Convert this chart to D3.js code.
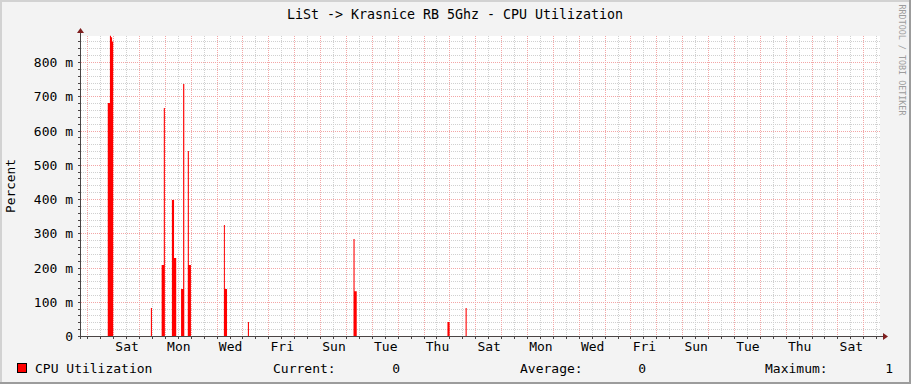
<!DOCTYPE html>
<html>
<head>
<meta charset="utf-8">
<script src="https://cdn.jsdelivr.net/npm/d3@7"></script>
<style>
  html, body { margin: 0; padding: 0; background: #f3f3f3; }
  svg { display: block; }
</style>
</head>
<body>
<div id="chart"></div>
<script>
// series: CPU utilization spikes, [start, end, value] (UTC), zero elsewhere
var spikeStart = ["2023-09-01T19:00", "2023-09-01T21:00", "2023-09-01T22:00", "2023-09-01T23:00",
  "2023-09-03T11:00", "2023-09-03T21:00", "2023-09-03T23:00", "2023-09-04T06:30", "2023-09-04T08:30",
  "2023-09-04T15:00", "2023-09-04T16:55", "2023-09-04T21:15", "2023-09-04T22:15",
  "2023-09-06T06:45", "2023-09-06T07:40", "2023-09-07T05:00",
  "2023-09-11T07:00", "2023-09-11T08:00", "2023-09-14T22:10", "2023-09-15T15:00"]
var spikeEnd = ["2023-09-01T21:00", "2023-09-01T22:00", "2023-09-01T23:00", "2023-09-02T00:00",
  "2023-09-03T12:00", "2023-09-03T23:00", "2023-09-04T00:00", "2023-09-04T08:30", "2023-09-04T10:30",
  "2023-09-04T16:55", "2023-09-04T18:00", "2023-09-04T22:15", "2023-09-05T00:10",
  "2023-09-06T07:40", "2023-09-06T09:40", "2023-09-07T06:00",
  "2023-09-11T08:00", "2023-09-11T10:00", "2023-09-15T00:10", "2023-09-15T16:00"]
var spikeValue = [0.680, 0.877, 0.872, 0.860,
  0.082, 0.207, 0.666, 0.397, 0.228,
  0.137, 0.736, 0.540, 0.207,
  0.324, 0.137, 0.041,
  0.283, 0.131, 0.041, 0.082]

var yTicks = [0, 0.1, 0.2, 0.3, 0.4, 0.5, 0.6, 0.7, 0.8]
var timeStart = "2023-08-31T18:10"
var timeEnd = "2023-10-01T15:30"
var yMax = 0.876

var legendLabels = ["Current:", "Average:", "Maximum:"]
var legendValues = ["0", "0", "1"]

var width = 911
var height = 384
var margin = ({ top: 36, right: 31, bottom: 48, left: 81 })
var mono = "'DejaVu Sans Mono', monospace"

var parse = s => new Date(s + ":00Z")

var x = d3.scaleUtc()
  .domain([parse(timeStart), parse(timeEnd)])
  .range([margin.left, width - margin.right])

var y = d3.scaleLinear()
  .domain([0, yMax])
  .range([height - margin.bottom, margin.top])

// build stepped series
var data = [{ t: parse(timeStart), v: 0 }]
spikeStart.forEach((s, i) => {
  data.push({ t: parse(s), v: spikeValue[i] })
  data.push({ t: parse(spikeEnd[i]), v: 0 })
})
data.push({ t: parse(timeEnd), v: 0 })

var svg = d3.select("#chart").append("svg")
  .attr("width", width)
  .attr("height", height)

// background + 3d frame
svg.append("rect").attr("width", width).attr("height", height).attr("fill", "#f3f3f3")
svg.append("rect").attr("x", 0).attr("y", 0).attr("width", width).attr("height", 2).attr("fill", "#d2d2d2")
svg.append("rect").attr("x", 0).attr("y", 0).attr("width", 2).attr("height", height).attr("fill", "#d2d2d2")
svg.append("rect").attr("x", 0).attr("y", height - 2).attr("width", width).attr("height", 2).attr("fill", "#9c9c9c")
svg.append("rect").attr("x", width - 2).attr("y", 0).attr("width", 2).attr("height", height).attr("fill", "#9c9c9c")

var x0 = margin.left, x1 = width - margin.right
var y0 = height - margin.bottom, y1 = margin.top

svg.append("rect")
  .attr("x", x0).attr("y", y1)
  .attr("width", x1 - x0).attr("height", y0 - y1)
  .attr("fill", "#ffffff")

var grid = svg.append("g").attr("shape-rendering", "crispEdges")

// horizontal grid
var hMinor = d3.range(0, yMax, 0.02)
grid.selectAll(".hmin")
  .data(hMinor.filter(v => Math.round(v * 100) % 10 != 0))
  .join("line")
  .attr("x1", x0).attr("x2", x1)
  .attr("y1", d => Math.round(y(d)) + 0.5).attr("y2", d => Math.round(y(d)) + 0.5)
  .attr("stroke", "#d0d0d0")
  .attr("stroke-dasharray", "1,1")

// vertical grid: every 12h, midnight = major
var hours = d3.utcHour.every(12).range(x.domain()[0], x.domain()[1])
grid.selectAll(".vmin")
  .data(hours.filter(d => d.getUTCHours() != 0))
  .join("line")
  .attr("x1", d => Math.round(x(d)) + 0.5).attr("x2", d => Math.round(x(d)) + 0.5)
  .attr("y1", y1).attr("y2", y0)
  .attr("stroke", "#d0d0d0")
  .attr("stroke-dasharray", "1,1")

grid.selectAll(".hmaj")
  .data(yTicks.slice(1))
  .join("line")
  .attr("x1", x0).attr("x2", x1)
  .attr("y1", d => Math.round(y(d)) + 0.5).attr("y2", d => Math.round(y(d)) + 0.5)
  .attr("stroke", "#f3a6a6")
  .attr("stroke-dasharray", "1,1")

grid.selectAll(".vmaj")
  .data(hours.filter(d => d.getUTCHours() == 0))
  .join("line")
  .attr("x1", d => Math.round(x(d)) + 0.5).attr("x2", d => Math.round(x(d)) + 0.5)
  .attr("y1", y1).attr("y2", y0)
  .attr("stroke", "#f3a6a6")
  .attr("stroke-dasharray", "1,1")

// data area
var area = d3.area()
  .curve(d3.curveStepAfter)
  .x(d => x(d.t))
  .y0(y(0))
  .y1(d => y(d.v))

svg.append("path")
  .datum(data)
  .attr("fill", "#ff0000")
  .attr("d", area)

// axes
var axisColor = "#4a4444"
var ax = svg.append("g").attr("shape-rendering", "crispEdges")
ax.append("line")
  .attr("x1", x0 - 3).attr("x2", x1 + 4)
  .attr("y1", y0 + 0.5).attr("y2", y0 + 0.5)
  .attr("stroke", axisColor)
ax.append("line")
  .attr("x1", x0 - 0.5).attr("x2", x0 - 0.5)
  .attr("y1", y0 + 3).attr("y2", y1 - 4)
  .attr("stroke", axisColor)

ax.selectAll(".xt")
  .data(hours)
  .join("line")
  .attr("x1", d => Math.round(x(d)) + 0.5).attr("x2", d => Math.round(x(d)) + 0.5)
  .attr("y1", y0 + 1).attr("y2", y0 + 3)
  .attr("stroke", axisColor)

ax.selectAll(".yt")
  .data(hMinor)
  .join("line")
  .attr("x1", x0 - 3).attr("x2", x0 - 1)
  .attr("y1", d => Math.round(y(d)) + 0.5).attr("y2", d => Math.round(y(d)) + 0.5)
  .attr("stroke", axisColor)

// arrows
svg.append("path")
  .attr("d", `M${x1 + 3},${y0 - 3}L${x1 + 8},${y0 + 0.5}L${x1 + 3},${y0 + 4}Z`)
  .attr("fill", "#7f1f1f")
svg.append("path")
  .attr("d", `M${x0 - 4},${y1 - 3}L${x0 - 0.5},${y1 - 8}L${x0 + 3},${y1 - 3}Z`)
  .attr("fill", "#7f1f1f")

// y labels
svg.append("g")
  .selectAll("text")
  .data(yTicks)
  .join("text")
  .attr("x", 73)
  .attr("y", d => y(d) + 5)
  .attr("text-anchor", "end")
  .style("font", "13px " + mono)
  .attr("fill", "#000")
  .text(d => d == 0 ? "0" : Math.round(d * 1000) + " m")

// x labels: every other day (even dates), centred at noon
var labelDays = d3.utcDay.range(x.domain()[0], x.domain()[1])
  .filter(d => d.getUTCDate() % 2 == 0)
svg.append("g")
  .selectAll("text")
  .data(labelDays)
  .join("text")
  .attr("x", d => x(d3.utcHour.offset(d, 12)) + 1)
  .attr("y", 351)
  .attr("text-anchor", "middle")
  .style("font", "13px " + mono)
  .attr("fill", "#000")
  .text(d => d3.utcFormat("%a")(d))

// title
svg.append("text")
  .attr("x", 455)
  .attr("y", 19)
  .attr("text-anchor", "middle")
  .style("font", "13.3px " + mono)
  .attr("fill", "#000")
  .text("LiSt -> Krasnice RB 5Ghz - CPU Utilization")

// vertical label
svg.append("text")
  .attr("transform", "translate(15,186) rotate(-90)")
  .attr("text-anchor", "middle")
  .style("font", "12.8px " + mono)
  .attr("fill", "#000")
  .text("Percent")

// watermark
svg.append("text")
  .attr("transform", "translate(899,60) rotate(90)")
  .attr("text-anchor", "middle")
  .style("font", "8.4px " + mono)
  .attr("fill", "#9c9c9c")
  .text("RRDTOOL / TOBI OETIKER")

// legend
svg.append("rect")
  .attr("x", 17.5).attr("y", 363.5)
  .attr("width", 9).attr("height", 9)
  .attr("fill", "#ff0000")
  .attr("stroke", "#000")
  .attr("stroke-width", 1)
svg.append("text")
  .attr("x", 35).attr("y", 373)
  .style("font", "13px " + mono)
  .text("CPU Utilization")

var labelX = [273, 520, 765]
var valueX = [400, 646, 893]
svg.append("g").selectAll("text")
  .data(legendLabels)
  .join("text")
  .attr("x", (d, i) => labelX[i]).attr("y", 373)
  .style("font", "13px " + mono)
  .text(d => d)
svg.append("g").selectAll("text")
  .data(legendValues)
  .join("text")
  .attr("x", (d, i) => valueX[i]).attr("y", 373)
  .attr("text-anchor", "end")
  .style("font", "13px " + mono)
  .text(d => d)
</script>
</body>
</html>
